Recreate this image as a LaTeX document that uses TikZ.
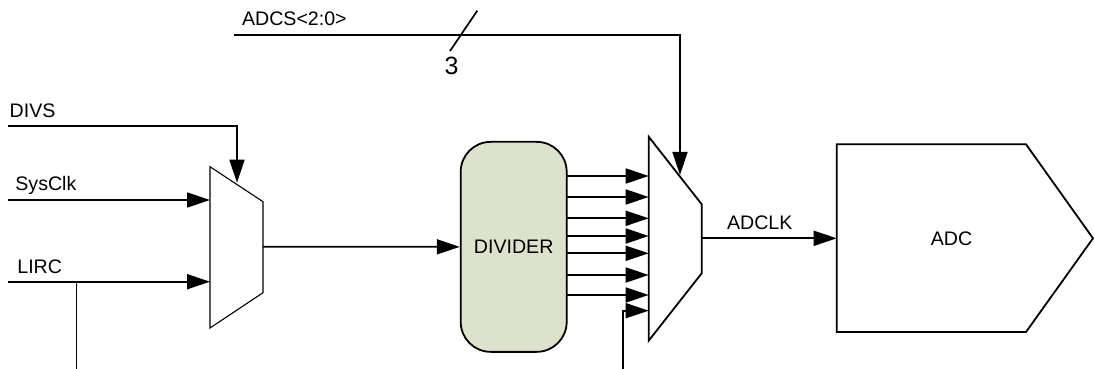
\documentclass[tikz,border=0pt]{standalone}
\usepackage{fontspec}
\setmainfont{Liberation Sans}
\usetikzlibrary{arrows.meta}
\definecolor{divfill}{RGB}{221,226,204}
\tikzset{
  wire/.style={line width=0.85pt},
  arr/.style={wire,-{Triangle[length=11.5pt,width=7.5pt]}},
  lbl/.style={inner sep=0pt,font=\fontsize{9.8}{11.8}\selectfont},
  muxthin/.style={line width=0.55pt,line join=miter},
  muxthick/.style={line width=0.9pt,line join=miter},
}
\begin{document}
\begin{tikzpicture}[x=0.5pt,y=-0.5pt]
\useasboundingbox (0,0) rectangle (1094,369);

% left mux
\coordinate (lm1) at (210,166.7);
\coordinate (lm2) at (263,201.7);
\coordinate (lm3) at (263,292.7);
\coordinate (lm4) at (210,328);
\draw[muxthin] (lm1)--(lm2)--(lm3)--(lm4)--cycle;

% right mux
\coordinate (rm1) at (648.7,136.7);
\coordinate (rm2) at (701.7,204.3);
\coordinate (rm3) at (701.7,273.3);
\coordinate (rm4) at (648.7,340.7);
\draw[muxthick] (rm1)--(rm2)--(rm3)--(rm4)--cycle;

% divider
\node[draw,line width=0.9pt,fill=divfill,rounded corners=15pt,
      minimum width=53pt,minimum height=105pt,inner sep=0pt,
      font=\fontsize{9.8}{11.8}\selectfont] (div) at (513.7,246.85) {DIVIDER};

% ADC
\coordinate (a1) at (836.7,144.3);
\coordinate (a2) at (1026,144.3);
\coordinate (a3) at (1093,238.3);
\coordinate (a4) at (1026,332);
\coordinate (a5) at (836.7,332);
\draw[muxthick] (a1)--(a2)--(a3)--(a4)--(a5)--cycle;
\node[lbl,anchor=base] (adct) at (951.5,245.7) {ADC};

% labels
\node[lbl,anchor=base west] (divs) at (9.3,117.3) {DIVS};
\node[lbl,anchor=base west] (sysclk) at (15,191) {SysClk};
\node[lbl,anchor=base west] (lirc) at (17,273.3) {LIRC};
\node[lbl,anchor=base west] (adcs) at (241.7,25.7) {ADCS<2:0>};
\node[lbl,anchor=base,font=\fontsize{12.5}{15}\selectfont] (three) at (451.5,74.5) {3};
\node[lbl,anchor=base west] (adclk) at (726.7,230) {ADCLK};

% left inputs
\coordinate (divs0) at (8,125.7);
\coordinate (divsc) at (237,125.7);
\coordinate (divst) at (237,182.7);
\draw[arr] (divs0) -- (divsc) -- (divst);
\coordinate (sys0) at (8,200);
\coordinate (sys1) at (210,200);
\draw[arr] (sys0) -- (sys1);
\coordinate (lirc0) at (8,281.7);
\coordinate (lirc1) at (210,281.7);
\draw[arr] (lirc0) -- (lirc1);
\coordinate (lircb) at (76.5,281.7);
\coordinate (lircd) at (76.5,369);
\draw[wire] (lircb) -- (lircd);

% left mux -> divider
\coordinate (lmo) at (263,246.7);
\draw[arr] (lmo) -- (div.west);

% divider outputs
\foreach \yy [count=\i] in {176,197,218.3,236,253.3,275,295}{
  \coordinate (do\i) at (566.7,\yy);
  \coordinate (mi\i) at (648.7,\yy);
  \draw[arr] (do\i) -- (mi\i);
}
\coordinate (ext0) at (622.7,369);
\coordinate (ext1) at (622.7,310.7);
\coordinate (ext2) at (648.7,310.7);
\draw[arr] (ext0) -- (ext1) -- (ext2);

% ADCS bus
\coordinate (bus0) at (234,35);
\coordinate (busc) at (680,35);
\coordinate (bust) at (680,175);
\draw[arr] (bus0) -- (busc) -- (bust);
\coordinate (sl0) at (477.3,10.7);
\coordinate (sl1) at (450,51);
\draw[wire] (sl0) -- (sl1);

% ADCLK
\coordinate (rmo) at (701.7,238.3);
\coordinate (adcin) at (836.7,238.3);
\draw[arr] (rmo) -- (adcin);
\end{tikzpicture}
\end{document}
